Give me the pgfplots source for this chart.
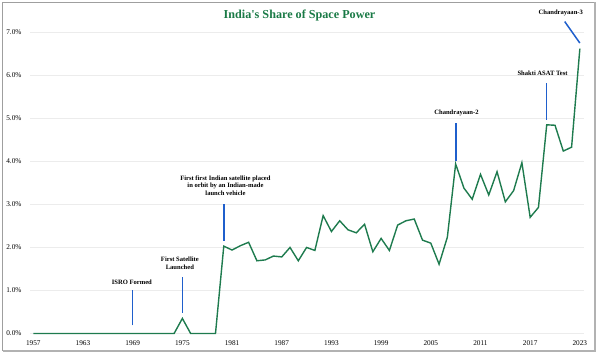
\documentclass[border=0pt]{standalone}
\usepackage{fontspec}
\setmainfont{Liberation Serif}
\usepackage{pgfplots}
\pgfplotsset{compat=1.18}
\definecolor{linegreen}{HTML}{1E7B4E}
\definecolor{titlegreen}{HTML}{1A7A46}
\definecolor{annblue}{HTML}{1F5FCC}
\tikzset{ann/.style={font=\bfseries\fontsize{6.6}{7.6}\selectfont, align=center, inner sep=0pt}}
\begin{document}
\begin{tikzpicture}
\useasboundingbox (0,0) rectangle (600bp,357bp);
% outer frame
\draw[gray!75, line width=0.9bp] (2.5bp,354.5bp) -- (2.5bp,5.5bp);
\draw[gray!75, line width=0.9bp] (2.5bp,354.5bp) -- (595bp,354.5bp);
\draw[gray!60, line width=2bp] (595bp,354.5bp) -- (595bp,5.5bp) -- (2.5bp,5.5bp);
\node[font=\bfseries\fontsize{12.2}{14}\selectfont, text=titlegreen] at (299.5bp,341.8bp) {India\textquotesingle s Share of Space Power};
\begin{axis}[
  scale only axis, width=554bp, height=301.2bp,
  at={(30bp,23.5bp)}, anchor=south west,
  xmin=1956.6, xmax=2023.5, ymin=0, ymax=7,
  axis line style={draw=none}, tick style={draw=none},
  major tick length=0pt,
  xtick={1957,1963,...,2023},
  ytick={0,1,2,3,4,5,6,7},
  yticklabels={0.0\%,1.0\%,2.0\%,3.0\%,4.0\%,5.0\%,6.0\%,7.0\%},
  ymajorgrids, major grid style={draw=gray!15, line width=0.8bp},
  /pgf/number format/assume math mode=true,
  xticklabel style={font=\fontsize{7.3}{8}\selectfont, /pgf/number format/1000 sep={}, yshift=-3.5bp},
  yticklabel style={font=\fontsize{7.3}{8}\selectfont, xshift=-5bp},
  clip=false,
]
\addplot[color=linegreen, line width=1.4bp, mark=none] coordinates {
(1957,0) (1958,0) (1959,0) (1960,0) (1961,0) (1962,0) (1963,0) (1964,0)
(1965,0) (1966,0) (1967,0) (1968,0) (1969,0) (1970,0) (1971,0) (1972,0)
(1973,0) (1974,0) (1975,0.35) (1976,0) (1977,0) (1978,0) (1979,0)
(1980,2.03) (1981,1.94) (1982,2.04) (1983,2.12) (1984,1.69) (1985,1.71)
(1986,1.80) (1987,1.78) (1988,2.00) (1989,1.69) (1990,2.00) (1991,1.93)
(1992,2.74) (1993,2.37) (1994,2.62) (1995,2.41) (1996,2.34) (1997,2.54)
(1998,1.90) (1999,2.21) (2000,1.93) (2001,2.52) (2002,2.62) (2003,2.66)
(2004,2.17) (2005,2.10) (2006,1.61) (2007,2.24) (2008,3.94) (2009,3.38)
(2010,3.12) (2011,3.70) (2012,3.22) (2013,3.76) (2014,3.06) (2015,3.32)
(2016,3.97) (2017,2.70) (2018,2.93) (2019,4.85) (2020,4.84) (2021,4.24)
(2022,4.33) (2023,6.62)
};
% annotation leader lines
\draw[annblue, line width=1.5bp] (axis cs:1969,0.19) -- (axis cs:1969,1.01);
\draw[annblue, line width=1.5bp] (axis cs:1975,0.48) -- (axis cs:1975,1.32);
\draw[annblue, line width=1.5bp] (axis cs:1980,2.15) -- (axis cs:1980,3.00);
\draw[annblue, line width=1.5bp] (axis cs:2008.05,4.02) -- (axis cs:2008.05,4.89);
\draw[annblue, line width=1.5bp] (axis cs:2019,4.97) -- (axis cs:2019,5.82);
\draw[annblue, line width=1.5bp] (axis cs:2021.17,7.25) -- (axis cs:2023,6.75);
% annotation texts
\node[ann] at (axis cs:1968.9,1.18) {ISRO Formed};
\node[ann] at (axis cs:1974.7,1.63) {First Satellite\\Launched};
\node[ann] at (axis cs:1980.2,3.44) {First first Indian satellite placed\\in orbit by an Indian-made\\launch vehicle};
\node[ann] at (axis cs:2008.1,5.12) {Chandrayaan-2};
\node[ann] at (axis cs:2018.5,6.05) {Shakti ASAT Test};
\node[ann] at (axis cs:2020.7,7.45) {Chandrayaan-3};
\end{axis}
\end{tikzpicture}
\end{document}
